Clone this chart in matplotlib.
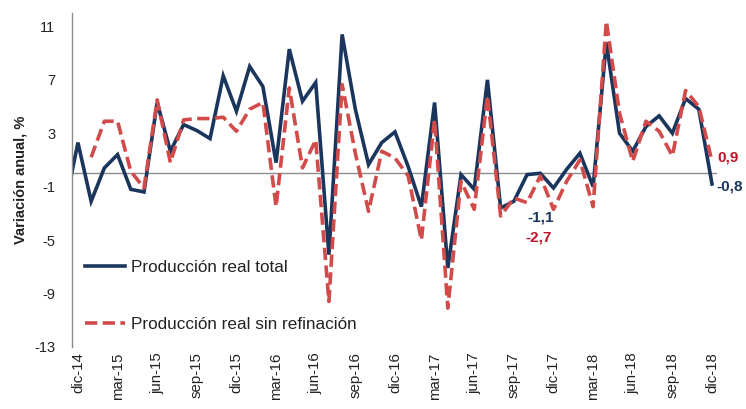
import numpy as np
import matplotlib
matplotlib.use("Agg")
import matplotlib.pyplot as plt

plt.rcParams["font.family"] = ["Liberation Sans", "DejaVu Sans"]

# nov-14 .. dic-18 (nov-14 sits left of the axis and is clipped)
months = ["nov-14", "dic-14"] + [
    f"{m}-{y}" for y in ("15", "16", "17", "18")
    for m in ("ene", "feb", "mar", "abr", "may", "jun",
              "jul", "ago", "sep", "oct", "nov", "dic")
]

total = [
    -2.6, 2.3,
    -2.1, 0.4, 1.4, -1.2, -1.4, 5.3, 1.65, 3.65, 3.2, 2.6, 7.3, 4.65,
    8.0, 6.5, 0.8, 9.3, 5.4, 6.8, -6.1, 10.4, 4.8, 0.65, 2.3, 3.1,
    0.5, -2.5, 5.3, -7.1, -0.1, -1.2, 7.0, -2.6, -2.1, -0.1, 0.0, -1.1,
    0.3, 1.5, -1.0, 9.8, 3.0, 1.65, 3.5, 4.3, 3.0, 5.6, 4.8, -0.8,
]
sin_ref = [
    np.nan, np.nan,
    1.2, 3.9, 3.9, 0.15, -1.1, 5.5, 0.8, 4.0, 4.1, 4.1, 4.2, 3.15,
    4.8, 5.3, -2.5, 6.4, 0.4, 2.5, -9.6, 6.65, 1.5, -2.85, 1.65, 1.15,
    -0.2, -5.0, 4.0, -10.1, -0.6, -2.7, 5.8, -3.2, -1.85, -2.2, -0.2, -2.7,
    -0.6, 1.0, -2.5, 11.4, 4.5, 0.9, 3.9, 3.15, 1.3, 6.2, 5.0, 0.9,
]
tick_labels = ["dic-14", "mar-15", "jun-15", "sep-15", "dic-15", "mar-16",
               "jun-16", "sep-16", "dic-16", "mar-17", "jun-17", "sep-17",
               "dic-17", "mar-18", "jun-18", "sep-18", "dic-18"]
y_ticks = [-13, -9, -5, -1, 3, 7, 11]

blue = "#1b365d"
red = "#d24b4b"
red_txt = "#c0142a"
grey = "#8c8c8c"

x = np.arange(len(months)) - 1  # dic-14 -> 0

fig = plt.figure(figsize=(7.46, 4.09), dpi=100)
ax = fig.add_axes([0.0965, 0.152, 0.865, 0.816])

ax.plot(x, total, color=blue, lw=2.6, label="Producción real total",
        solid_joinstyle="miter")
ax.plot(x, sin_ref, color=red, lw=2.6, dashes=(3.4, 1.5),
        label="Producción real sin refinación")
ax.axhline(0, color=grey, lw=1.0, zorder=0)

ax.set_xlim(-0.45, 48.4)
ax.set_ylim(-13, 12)
ax.set_yticks(y_ticks)
ax.set_yticklabels([str(v) for v in y_ticks])
ax.set_xticks([months.index(t) - 1 for t in tick_labels])
ax.set_xticklabels(tick_labels, rotation=90)
ax.tick_params(axis="y", length=0, pad=12, labelsize=10.5, colors="#222222")
ax.tick_params(axis="x", length=0, pad=4, labelsize=10.8, colors="#222222")

for side in ("top", "right", "bottom"):
    ax.spines[side].set_visible(False)
ax.spines["left"].set_color(grey)
ax.spines["left"].set_linewidth(1.0)

ax.set_ylabel("Variación anual, %", fontsize=10.5, fontweight="bold",
              color="#222222", labelpad=5)

leg = ax.legend(loc="lower left", bbox_to_anchor=(0.02, 0.045),
                frameon=False, fontsize=12.3, handlelength=2.35,
                handletextpad=0.35, labelspacing=2.45, borderpad=0,
                borderaxespad=0)
for t in leg.get_texts():
    t.set_color("#222222")

def fmt(v):
    return f"{v:.1f}".replace(".", ",")

i17 = months.index("dic-17") - 1
i18 = months.index("dic-18") - 1
ax.annotate(fmt(total[i17 + 1]), (i17, total[i17 + 1]), xytext=(-9, -21),
            textcoords="offset points", ha="center", va="center",
            color=blue, fontsize=11, fontweight="bold")
ax.annotate(fmt(sin_ref[i17 + 1]), (i17, sin_ref[i17 + 1]), xytext=(-11, -20),
            textcoords="offset points", ha="center", va="center",
            color=red_txt, fontsize=11, fontweight="bold")
ax.annotate(fmt(sin_ref[i18 + 1]), (i18, sin_ref[i18 + 1]), xytext=(4, 3),
            textcoords="offset points", ha="left", va="center",
            color=red_txt, fontsize=11, fontweight="bold", annotation_clip=False)
ax.annotate(fmt(total[i18 + 1]), (i18, total[i18 + 1]), xytext=(3, -2),
            textcoords="offset points", ha="left", va="center",
            color=blue, fontsize=11, fontweight="bold", annotation_clip=False)

fig.savefig("out.png", dpi=100)
